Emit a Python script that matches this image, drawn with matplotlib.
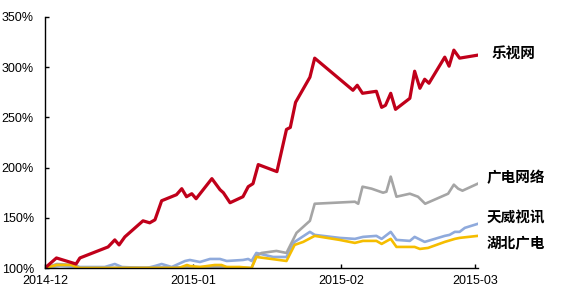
import matplotlib
matplotlib.use("Agg")
import matplotlib.pyplot as plt

# x = days since 2014-12-01, y = cumulative index (%)
letv_days = [0, 2.4, 6.5, 7.3, 13.2, 14.6, 15.5, 16.7, 20.5, 21.9, 23.0, 24.4, 27.5, 28.6,
             29.6, 30.7, 31.6, 34.9, 36.6, 37.3, 38.7, 41.4, 42.5, 43.5, 44.6, 48.5, 50.5,
             51.3, 52.4, 55.4, 56.4, 64.4, 65.3, 66.4, 69.3, 70.4, 71.2, 72.3, 73.3, 76.3,
             77.3, 78.4, 79.4, 80.3, 83.6, 84.5, 85.5, 86.7, 90.5]
letv_vals = [100, 110, 104, 110, 121, 128, 123, 131, 147, 145, 148, 167, 173, 179,
             171, 174, 169, 189, 178, 175, 165, 171, 181, 184, 203, 196, 238,
             240, 265, 290, 309, 277, 282, 274, 276, 260, 262, 274, 258, 269,
             296, 279, 288, 284, 310, 301, 317, 309, 312]

gdwl_days = [0, 2.5, 6.3, 7.5, 36.6, 43.2, 44.2, 45.3, 48.4, 50.5, 52.6, 55.4, 56.4, 64.8,
             65.5, 66.4, 68.3, 70.7, 71.4, 72.3, 73.5, 76.3, 78.0, 79.5, 84.3, 85.5, 86.4,
             87.3, 90.5]
gdwl_vals = [100, 104, 103, 100, 101, 100, 112, 115, 117, 115, 135, 147, 164, 166,
             164, 181, 179, 175, 176, 191, 171, 174, 171, 164, 174, 183, 179,
             177, 184]

twsx_days = [0, 3.1, 6.7, 12.5, 14.6, 16.1, 21.3, 23.0, 24.4, 26.5, 29.3, 30.3, 32.4, 34.5,
             36.6, 38.0, 41.4, 42.5, 43.2, 44.2, 47.7, 50.5, 52.2, 55.4, 56.4, 61.6, 64.8,
             66.5, 69.3, 70.4, 72.3, 73.5, 76.3, 77.3, 79.4, 83.6, 84.6, 85.7, 86.7, 87.8,
             90.5]
twsx_vals = [100, 102, 101, 101, 104, 101, 100, 102, 104, 101, 107, 108, 106, 109,
             109, 107, 108, 109, 107, 115, 111, 111, 126, 136, 133, 130, 129,
             131, 132, 129, 136, 128, 127, 131, 126, 132, 133, 136, 136, 140,
             144]

hbgd_days = [0, 2.5, 5.5, 7.0, 28.0, 29.7, 30.3, 32.4, 35.5, 36.9, 38.0, 40.7, 43.2, 44.2,
             47.4, 50.5, 52.2, 54.0, 56.4, 61.6, 64.8, 66.5, 69.3, 70.4, 72.3, 73.5, 77.3,
             78.4, 80.1, 83.6, 85.7, 86.7, 90.5]
hbgd_vals = [100, 103, 103, 100, 100, 103, 102, 101, 103, 103, 101, 101, 100, 111,
             109, 107, 123, 126, 132, 128, 125, 127, 127, 124, 129, 121, 121,
             119, 120, 126, 129, 130, 132]

month_days = [0, 31, 62, 90]
month_labels = ["2014-12", "2015-01", "2015-02", "2015-03"]
y_ticks = [100, 150, 200, 250, 300, 350]

names = ["乐视网", "广电网络", "天威视讯", "湖北广电"]

fig = plt.figure(figsize=(5.65, 3.01), dpi=100)
ax = fig.add_axes([0.0796, 0.1096, 0.766, 0.834])

ax.plot(twsx_days, twsx_vals, color="#8FAADC", lw=1.9, zorder=2)
ax.plot(gdwl_days, gdwl_vals, color="#A5A5A5", lw=1.9, zorder=2.1)
ax.plot(hbgd_days, hbgd_vals, color="#F5BD00", lw=1.9, zorder=2.2)
ax.plot(letv_days, letv_vals, color="#C0001A", lw=2.3, zorder=2.3)

ax.set_xlim(0, 90.5)
ax.set_ylim(100, 350)
ax.set_xticks(month_days)
ax.set_xticklabels(month_labels)
ax.set_yticks(y_ticks)
ax.set_yticklabels([f"{v}%" for v in y_ticks])

for s in ["top", "right"]:
    ax.spines[s].set_visible(False)
for s in ["left", "bottom"]:
    ax.spines[s].set_linewidth(1.0)
ax.tick_params(axis="both", direction="in", length=3, width=1.0,
               labelsize=9, labelfontfamily="Liberation Sans")
ax.tick_params(axis="y", pad=8)
ax.tick_params(axis="x", pad=5)

# series name labels at right
label_pos = [(93.4, 314), (92.4, 191), (92.4, 150), (92.4, 125)]
for name, (lx, ly) in zip(names, label_pos):
    ax.text(lx, ly, name, fontsize=10.5, fontweight="bold", va="center", ha="left",
            family=["Noto Sans CJK SC", "DejaVu Sans"], clip_on=False)

fig.savefig("out.png", dpi=100)
